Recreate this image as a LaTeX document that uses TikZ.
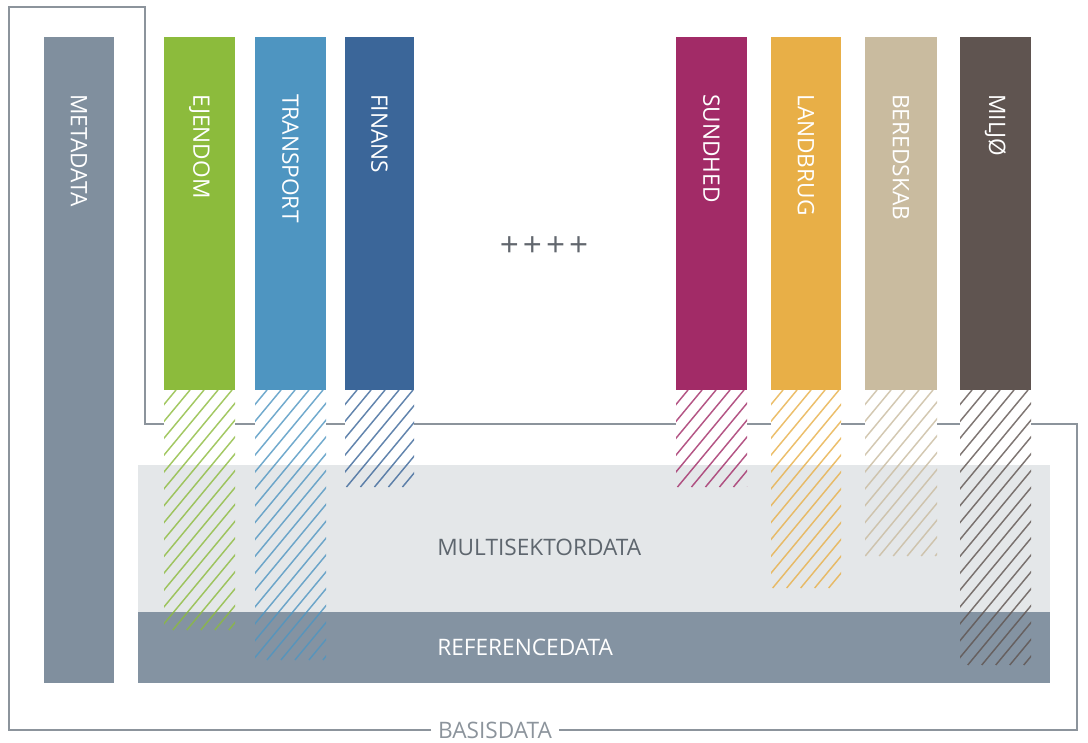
\documentclass[tikz,border=0pt]{standalone}
\usepackage{fontspec}
\setmainfont{Open Sans}
\definecolor{cMeta}{HTML}{808F9E}
\definecolor{cEjendom}{HTML}{8CBB3C}
\definecolor{cTransport}{HTML}{4E95C1}
\definecolor{cFinans}{HTML}{3B6699}
\definecolor{cSundhed}{HTML}{A22B67}
\definecolor{cLandbrug}{HTML}{E8AF47}
\definecolor{cBeredskab}{HTML}{C9BB9F}
\definecolor{cMiljo}{HTML}{5F5450}
\definecolor{cLight}{HTML}{E4E7E9}
\definecolor{cRef}{HTML}{8493A2}
\definecolor{cLine}{HTML}{8C949C}
\definecolor{cDarkText}{HTML}{5E666E}
\definecolor{cPlus}{HTML}{62676E}
\begin{document}
\begin{tikzpicture}[x=0.75pt,y=-0.75pt,
  colbox/.style={rectangle, draw=none, inner sep=0pt, outer sep=0pt},
  collabel/.style={text=white, inner sep=0pt, font=\fontsize{17}{20}\selectfont, rotate=-90, anchor=west},
  bandlabel/.style={inner sep=0pt, font=\fontsize{17}{20}\selectfont, anchor=west},
  outline/.style={draw=cLine, line width=1.1pt},
  hatchline/.style={line width=1.1pt, draw opacity=0.8}]
\useasboundingbox (0,0) rectangle (1088,742);
% BASISDATA outline
\node[inner xsep=5pt, inner ysep=0pt, text=cLine, font=\fontsize{17}{20}\selectfont] (basis) at (495,730) {BASISDATA};
\draw[outline] (basis.west) -- (9,730) -- (9,7) -- (145,7) -- (145,424) -- (1077,424) -- (1077,730) -- (basis.east);
% bands
\node[colbox, fill=cLight, anchor=north west, minimum width=684pt, minimum height=110.25pt] (multi) at (138,465) {};
\node[colbox, fill=cRef, anchor=north west, minimum width=684pt, minimum height=53.25pt] (ref) at (138,612) {};
\node[bandlabel, text=cDarkText] (multiT) at (437,547) {MULTISEKTORDATA};
\node[bandlabel, text=white] (refT) at (437,647) {REFERENCEDATA};
% white gaps and hatching
\foreach \xl/\xr/\hb/\c in {164/235/630/cEjendom, 255/326/660/cTransport, 345/414/487/cFinans,
  676/747/487/cSundhed, 771/841/588/cLandbrug, 865/937/556/cBeredskab, 960/1031/665/cMiljo}{
  \fill[white] (\xl,390) rectangle (\xr,465);
  \begin{scope}
    \clip (\xl,390) rectangle (\xr,\hb);
    \pgfmathsetmacro{\hh}{\hb-390}
    \foreach \k in {0,...,32}{
      \draw[hatchline, draw=\c] ({\xl-0.83*\hh+\k*14-2},\hb) -- ++({0.83*\hh},-\hh);
    }
  \end{scope}
}
% columns
\node[colbox, fill=cMeta, anchor=north, minimum width=52.5pt, minimum height=484.5pt] (meta) at (79,37) {};
\foreach \n/\xl/\xr/\c in {ejendom/164/235/cEjendom, transport/255/326/cTransport, finans/345/414/cFinans,
  sundhed/676/747/cSundhed, landbrug/771/841/cLandbrug, beredskab/865/937/cBeredskab, miljo/960/1031/cMiljo}{
  \node[colbox, fill=\c, anchor=north, minimum width={(\xr-\xl)*0.75pt}, minimum height=264.75pt] (\n) at ({(\xl+\xr)/2},37) {};
}
\node[collabel] (metaT) at (meta.north |- 0,94) {METADATA};
\node[collabel] (ejendomT) at (ejendom.north |- 0,94) {EJENDOM};
\node[collabel] (transportT) at (transport.north |- 0,94) {TRANSPORT};
\node[collabel] (finansT) at (finans.north |- 0,94) {FINANS};
\node[collabel] (sundhedT) at (sundhed.north |- 0,94) {SUNDHED};
\node[collabel] (landbrugT) at (landbrug.north |- 0,94) {LANDBRUG};
\node[collabel] (beredskabT) at (beredskab.north |- 0,94) {BEREDSKAB};
\node[collabel] (miljoT) at (miljo.north |- 0,94) {MILJØ};
% plus signs
\node[inner sep=0pt, text=cPlus, font=\fontsize{25}{27}\selectfont] (plus) at (544,247) {+\hspace{3pt}+\hspace{3pt}+\hspace{3pt}+};
\end{tikzpicture}
\end{document}
